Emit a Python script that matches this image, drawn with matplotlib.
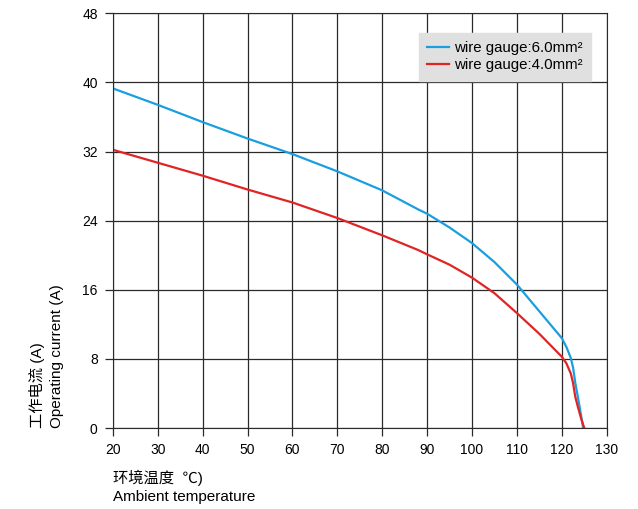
import matplotlib.pyplot as plt

plt.rcParams['font.family'] = ['Liberation Sans', 'Noto Sans CJK SC', 'DejaVu Sans']

# temperature (C) and operating current (A)
temp_6mm = [20, 30, 40, 50, 60, 70, 80, 88, 90, 95, 100, 105, 110, 115, 120, 121, 122, 122.5, 123, 123.5, 124.1, 124.75]
amps_6mm = [39.3, 37.4, 35.4, 33.5, 31.7, 29.7, 27.5, 25.3, 24.8, 23.2, 21.4, 19.2, 16.6, 13.5, 10.4, 9.4, 8.1, 7.0, 5.2, 3.8, 2.0, 0]

temp_4mm = [20, 30, 40, 50, 60, 70, 80, 88, 90, 95, 100, 105, 110, 115, 120, 121, 122, 122.5, 123, 123.6, 124.3, 125.0]
amps_4mm = [32.2, 30.7, 29.2, 27.6, 26.1, 24.3, 22.3, 20.6, 20.1, 18.9, 17.4, 15.6, 13.3, 10.9, 8.25, 7.5, 6.3, 5.2, 3.6, 2.4, 1.1, 0]

x_ticks = [20, 30, 40, 50, 60, 70, 80, 90, 100, 110, 120, 130]
y_ticks = [0, 8, 16, 24, 32, 40, 48]

fig = plt.figure(figsize=(6.38, 5.09), dpi=100)
ax = fig.add_axes([0.177, 0.159, 0.774, 0.815])

ax.plot(temp_6mm, amps_6mm, color='#1a9ee0', lw=1.6, label='wire gauge:6.0mm²')
ax.plot(temp_4mm, amps_4mm, color='#e02424', lw=1.6, label='wire gauge:4.0mm²')

ax.set_xlim(20, 130)
ax.set_ylim(0, 48)
ax.set_xticks(x_ticks)
ax.set_yticks(y_ticks)
ax.grid(True, color='#2a2a2a', lw=0.9)
ax.tick_params(direction='out', length=6, width=0.9, color='#2a2a2a', labelsize=10, pad=5)
for s in ax.spines.values():
    s.set_color('#2a2a2a')

leg = ax.legend(loc='upper right', bbox_to_anchor=(0.968, 0.952), fontsize=10.8,
                frameon=True, fancybox=False, framealpha=1, handlelength=1.45,
                handletextpad=0.35, borderpad=0.55, labelspacing=0.2,
                borderaxespad=0)
leg.get_frame().set_facecolor('#e0e0e0')
leg.get_frame().set_edgecolor('#e0e0e0')

fig.text(0.058, 0.16, '工作电流 (A)', rotation=90, fontsize=11, va='bottom', ha='center')
fig.text(0.090, 0.16, 'Operating current (A)', rotation=90, fontsize=11, va='bottom', ha='center')
fig.text(0.177, 0.062, '环境温度  ℃)', fontsize=11, ha='left', va='center')
fig.text(0.177, 0.024, 'Ambient temperature', fontsize=11, ha='left', va='center')

fig.savefig('out.png', dpi=100)
